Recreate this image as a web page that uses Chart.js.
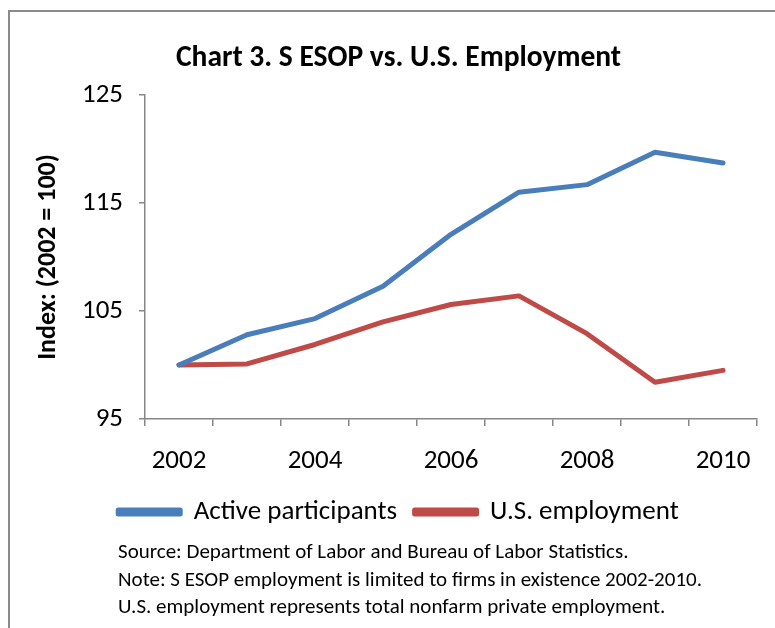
<!DOCTYPE html>
<html>
<head>
<meta charset="utf-8">
<script src="https://cdn.jsdelivr.net/npm/chart.js@4.4.1/dist/chart.umd.min.js"></script>
<style>
  html, body { margin: 0; padding: 0; background: #fff; }
  #wrap { position: relative; width: 775px; height: 628px; overflow: hidden; }
  #frame {
    position: absolute; left: 8px; top: 10px; width: 800px; height: 640px;
    border-left: 2px solid #8a8a8a; border-top: 2px solid #8a8a8a;
  }
  #chart { position: absolute; left: 0; top: 0; }
  #notes {
    position: absolute; left: 118px; top: 538px;
    font-family: Calibri, Carlito, Lato, sans-serif; font-size: 21px;
    line-height: 27.5px; color: #000; white-space: nowrap;
  }
</style>
</head>
<body>
<div id="wrap">
  <div id="frame"></div>
  <canvas id="chart" width="775" height="628"></canvas>
  <div id="notes">
    Source: Department of Labor and Bureau of Labor Statistics.<br>
    Note: S ESOP employment is limited to firms in existence 2002-2010.<br>
    U.S. employment represents total nonfarm private employment.
  </div>
</div>
<script>
// Index values, 2002 = 100
const years = ['2002', '2003', '2004', '2005', '2006', '2007', '2008', '2009', '2010'];
const activeParticipants = [100.0, 102.8, 104.3, 107.3, 112.1, 116.0, 116.7, 119.7, 118.7];
const usEmployment = [100.0, 100.1, 101.9, 104.0, 105.6, 106.4, 102.9, 98.4, 99.5];
const yTicks = [95, 105, 115, 125];

const FONT = 'Calibri, Carlito, Lato, sans-serif';
const AXIS = '#868686';

const ctx = document.getElementById('chart').getContext('2d');
const chart = new Chart(ctx, {
  type: 'line',
  data: {
    labels: years,
    datasets: [
      {
        label: 'Active participants',
        data: activeParticipants,
        borderColor: '#4a7ebb',
        backgroundColor: '#4a7ebb',
        borderWidth: 5,
        borderCapStyle: 'round',
        borderJoinStyle: 'round',
        pointRadius: 0,
        tension: 0
      },
      {
        label: 'U.S. employment',
        data: usEmployment,
        borderColor: '#be4b48',
        backgroundColor: '#be4b48',
        borderWidth: 5,
        borderCapStyle: 'round',
        borderJoinStyle: 'round',
        pointRadius: 0,
        tension: 0
      }
    ]
  },
  options: {
    responsive: false,
    animation: false,
    devicePixelRatio: 1,
    layout: { padding: { left: 40, right: 18, top: 0, bottom: 92.5 } },
    plugins: {
      title: {
        display: true,
        text: 'Chart 3. S ESOP vs. U.S. Employment',
        color: '#000',
        font: { family: FONT, size: 29.5, weight: 'bold', lineHeight: 1.2 },
        padding: { top: 41, bottom: 18.6 }
      },
      legend: {
        position: 'bottom',
        labels: {
          color: '#000',
          font: { family: FONT, size: 27 },
          boxWidth: 62,
          boxHeight: 4,
          padding: 17.5
        }
      },
      tooltip: { enabled: false }
    },
    scales: {
      x: {
        offset: true,
        grid: {
          offset: true,
          drawOnChartArea: false,
          color: AXIS,
          tickLength: 7,
          lineWidth: 1.5
        },
        border: { color: AXIS, width: 1.5 },
        ticks: {
          color: '#000',
          font: { family: FONT, size: 27 },
          padding: 19,
          autoSkip: false,
          maxRotation: 0,
          callback: function (v, i) { return i % 2 === 0 ? this.getLabelForValue(v) : ''; }
        },
        afterFit: function (scale) { scale.height = 62; }
      },
      y: {
        min: 95,
        max: 125,
        afterBuildTicks: function (scale) { scale.ticks = yTicks.map(v => ({ value: v })); },
        grid: {
          drawOnChartArea: false,
          color: AXIS,
          tickLength: 6,
          lineWidth: 1.5
        },
        border: { color: AXIS, width: 1.5 },
        ticks: {
          color: '#000',
          font: { family: FONT, size: 27 },
          padding: 16
        },
        title: {
          display: true,
          text: 'Index: (2002 = 100)',
          color: '#000',
          font: { family: FONT, size: 26, weight: 'bold', lineHeight: 1.2 },
          padding: { top: -7, bottom: 0 }
        },
        afterFit: function (scale) { scale.width = 105; }
      }
    }
  }
});
</script>
</body>
</html>
